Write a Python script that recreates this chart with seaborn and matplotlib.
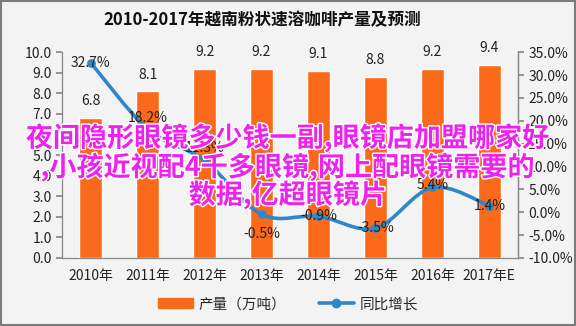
import numpy as np
import pandas as pd
import seaborn as sns
import matplotlib
matplotlib.use("Agg")
import matplotlib.pyplot as plt
from matplotlib.path import Path
from matplotlib.patches import PathPatch, Patch
from matplotlib.lines import Line2D
import matplotlib.patheffects as pe

# Data
years = ["2010年", "2011年", "2012年", "2013年", "2014年", "2015年", "2016年", "2017年E"]
output = [6.8, 8.1, 9.2, 9.2, 9.1, 8.8, 9.2, 9.4]        # 产量（万吨）
growth = [32.7, 18.2, 11.3, -0.5, -0.9, -3.5, 5.4, 1.4]  # 同比增长 (%)
left_ticks = [0, 1, 2, 3, 4, 5, 6, 7, 8, 9, 10]
right_ticks = [-10, -5, 0, 5, 10, 15, 20, 25, 30, 35]

title = "2010-2017年越南粉状速溶咖啡产量及预测"
overlay = ["夜间隐形眼镜多少钱一副,眼镜店加盟哪家好",
           ",小孩近视配4千多眼镜,网上配眼镜需要的",
           "数据,亿超眼镜片"]

BAR = "#FA6A1A"
LINE = "#2E88C8"
BG = "#F3F3F3"

sns.set_theme(style="white")
plt.rcParams["font.family"] = ["Noto Sans CJK SC", "DejaVu Sans"]
plt.rcParams["axes.unicode_minus"] = False

fig = plt.figure(figsize=(5.76, 3.26), dpi=100, facecolor=BG)
ax = fig.add_axes([0.108, 0.209, 0.791, 0.631])
ax.set_facecolor(BG)

df = pd.DataFrame({"year": years, "output": output, "growth": growth})
sns.barplot(data=df, x="year", y="output", color=BAR, width=0.4,
            saturation=1, ax=ax)
ax.set_xlim(-0.5, len(years) - 0.5)
ax.set_ylim(0, 10)
ax.set_yticks(left_ticks)
ax.set_yticklabels([f"{v:.1f}" for v in left_ticks], fontsize=10, color="#222222")
ax.set_xlabel("")
ax.set_ylabel("")
ax.tick_params(axis="x", length=0, labelsize=10, labelcolor="#222222", pad=8)
ax.set_xticks(np.arange(-0.5, len(years), 1.0), minor=True)
ax.tick_params(axis="x", which="minor", length=4, color="#888888", direction="out")
ax.tick_params(axis="y", length=4, color="#888888", direction="out", left=True)
for s in ["top"]:
    ax.spines[s].set_visible(False)
for s in ["left", "bottom", "right"]:
    ax.spines[s].set_color("#888888")
    ax.spines[s].set_linewidth(0.9)

for i, v in enumerate(output):
    ax.annotate(f"{v:.1f}", (i, v), xytext=(0, 7), textcoords="offset points",
                ha="center", va="bottom", fontsize=10, color="#222222")

# Growth rate on secondary axis
ax2 = ax.twinx()
ax2.set_ylim(-10, 35)
ax2.set_yticks(right_ticks)
ax2.set_yticklabels([f"{v:.1f}%" for v in right_ticks], fontsize=10, color="#222222")
ax2.tick_params(axis="y", length=4, color="#888888", direction="out")
for s in ["top", "left", "bottom"]:
    ax2.spines[s].set_visible(False)
ax2.spines["right"].set_color("#888888")
ax2.spines["right"].set_linewidth(0.9)

# smooth curve through the points (Catmull-Rom as cubic Bezier)
xs = np.arange(len(growth), dtype=float)
ys = np.array(growth, dtype=float)
verts = [(xs[0], ys[0])]
codes = [Path.MOVETO]
t = 1 / 6
for i in range(len(xs) - 1):
    p0 = np.array([xs[max(i - 1, 0)], ys[max(i - 1, 0)]])
    p1 = np.array([xs[i], ys[i]])
    p2 = np.array([xs[i + 1], ys[i + 1]])
    p3 = np.array([xs[min(i + 2, len(xs) - 1)], ys[min(i + 2, len(xs) - 1)]])
    c1 = p1 + (p2 - p0) * t
    c2 = p2 - (p3 - p1) * t
    verts += [tuple(c1), tuple(c2), tuple(p2)]
    codes += [Path.CURVE4] * 3
ax2.add_patch(PathPatch(Path(verts, codes), facecolor="none", edgecolor=LINE,
                        lw=2.6, capstyle="round", joinstyle="round", zorder=3))
sns.scatterplot(x=xs, y=ys, ax=ax2, color=LINE, s=40, edgecolor=LINE,
                linewidth=0, zorder=4, legend=False)

label_offsets = [(0, 0), (0, 8), (0, 9), (0, -14), (0, 0), (0, 0), (0, 2), (0, 0)]
for i, v in enumerate(growth):
    dx, dy = label_offsets[i]
    ax2.annotate(f"{v:.1f}%", (xs[i], v), xytext=(dx, dy), textcoords="offset points",
                 ha="center", va="center", fontsize=10, color="#222222", zorder=5)

# Title
fig.text(0.455, 0.937, title, ha="center", va="center", fontsize=12,
         fontweight="bold", color="#111111")

# Legend
handles = [Patch(facecolor=BAR, edgecolor=BAR),
           Line2D([0], [0], color=LINE, lw=2.6, marker="o", markersize=6)]
fig.legend(handles, ["产量（万吨）", "同比增长"], loc="center",
           bbox_to_anchor=(0.5, 0.066), ncol=2, frameon=False, fontsize=10.5,
           handlelength=2.4, handleheight=0.7, columnspacing=2.2, handletextpad=0.4)

# Overlay caption
ys_txt = [0.577, 0.487, 0.402]
for line, yy in zip(overlay, ys_txt):
    fig.text(0.5, yy, line, ha="center", va="center", fontsize=19.5,
             fontweight="bold", color="#EE22EE", zorder=10,
             path_effects=[pe.withStroke(linewidth=2, foreground="white")])

# Outer frame
fig.patches.append(plt.Rectangle((0.002, 0.003), 0.996, 0.994, transform=fig.transFigure,
                                 fill=False, edgecolor="#7A7A7A", lw=1.5))

fig.savefig("out.png", dpi=100, facecolor=BG)
